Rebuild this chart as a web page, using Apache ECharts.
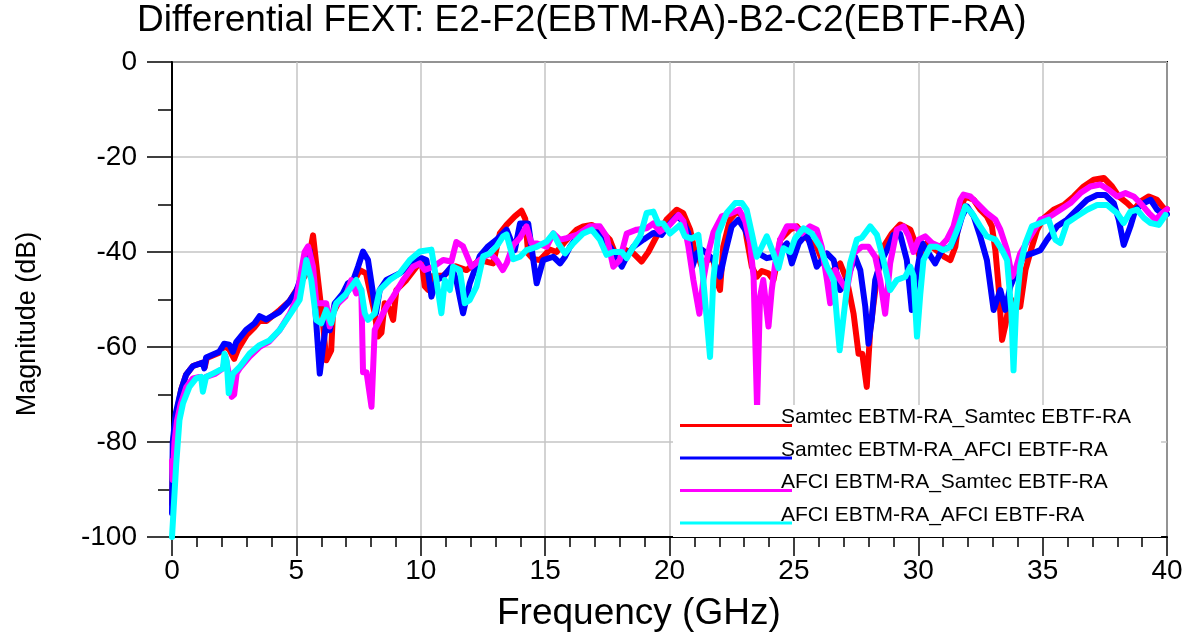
<!DOCTYPE html>
<html>
<head>
<meta charset="utf-8">
<script src="https://cdn.jsdelivr.net/npm/echarts@6/dist/echarts.min.js"></script>
<style>html,body{margin:0;padding:0;background:#fff}#c{width:1190px;height:635px}</style>
</head>
<body>
<div id="c"></div>
<script>
const titleText = 'Differential FEXT: E2-F2(EBTM-RA)-B2-C2(EBTF-RA)';
const xName = 'Frequency (GHz)';
const yName = 'Magnitude (dB)';
const seriesNames = ['Samtec EBTM-RA_Samtec EBTF-RA','Samtec EBTM-RA_AFCI EBTF-RA','AFCI EBTM-RA_Samtec EBTF-RA','AFCI EBTM-RA_AFCI EBTF-RA'];
const seriesColors = ['#ff0000','#0000ff','#ff00ff','#00ffff'];

const samtecSamtec = [[0,-93],[0.05,-80],[0.15,-75],[0.37,-69],[0.57,-65.8],[0.84,-64],[1.24,-63.3],[1.32,-64.2],[1.4,-62.3],[1.9,-61.2],[2.1,-59.8],[2.3,-60.5],[2.5,-62.5],[2.65,-60.5],[3.0,-57.5],[3.32,-55.8],[3.52,-54.5],[3.8,-54.5],[4.33,-52.2],[4.73,-50.3],[5.0,-48],[5.4,-44.5],[5.67,-36.5],[5.87,-45.9],[6.07,-55],[6.2,-62.8],[6.4,-60.7],[6.47,-52.9],[6.67,-50.8],[7.0,-48.7],[7.28,-46.6],[7.55,-43.8],[7.8,-44.5],[8.15,-52.9],[8.28,-57.8],[8.42,-57],[8.55,-50.8],[8.75,-52],[8.89,-54.3],[9.02,-48],[9.42,-45.9],[9.83,-43.1],[10.03,-41.7],[10.16,-47.2],[10.3,-48],[10.5,-45],[10.9,-45],[11.4,-43],[11.84,-43.8],[12.37,-41.7],[12.91,-42.4],[13.18,-36.1],[13.45,-34.3],[13.78,-32.5],[14.05,-31.3],[14.2,-33],[14.32,-40.3],[14.52,-41.5],[14.79,-41.7],[15.19,-39.5],[15.46,-40],[15.8,-37.8],[16.27,-35.3],[16.53,-34.6],[16.87,-34.3],[17.2,-35.3],[17.6,-37.4],[17.87,-41],[18.2,-39.5],[18.55,-40.3],[18.88,-42],[19.15,-40],[19.48,-36.7],[19.88,-33.2],[20.29,-31.1],[20.55,-31.8],[20.83,-35.3],[21.03,-40.3],[21.16,-41],[21.3,-43.1],[21.5,-41.7],[21.77,-41.5],[21.9,-46],[22.03,-48],[22.16,-38.9],[22.43,-33.2],[22.7,-31.5],[22.97,-32.5],[23.1,-37],[23.31,-43.1],[23.51,-45.2],[23.71,-44],[23.98,-44.5],[24.18,-45.9],[24.31,-42.4],[24.45,-37.4],[24.85,-35.3],[25.12,-34.6],[25.45,-36.7],[25.65,-37.8],[25.92,-38.9],[26.19,-42.4],[26.46,-44.5],[26.86,-42.4],[27.13,-45.9],[27.4,-53],[27.6,-61.4],[27.75,-61.4],[27.93,-68.4],[28.07,-56.4],[28.34,-45.2],[28.6,-38.9],[28.94,-36.1],[29.27,-34.2],[29.68,-35.3],[29.88,-38.1],[30.08,-41.5],[30.35,-38.1],[30.62,-39.2],[31.02,-40.9],[31.29,-41.7],[31.49,-38.9],[31.69,-31.1],[31.89,-28.3],[32.23,-29],[32.49,-31.1],[32.76,-32.5],[32.96,-34.6],[33.1,-39.6],[33.23,-47.3],[33.37,-58.5],[33.5,-55.5],[33.7,-49.7],[33.9,-51.5],[34.1,-51.5],[34.31,-43.8],[34.57,-38.9],[34.78,-35.3],[35.04,-32.9],[35.44,-31.1],[35.85,-30.1],[36.25,-28.3],[36.65,-26.2],[37.05,-24.8],[37.46,-24.4],[37.79,-26.2],[38.06,-28.3],[38.4,-29.7],[38.67,-31.1],[38.93,-29.4],[39.27,-28.3],[39.6,-29],[39.87,-30.8],[40,-31]];

const samtecAfci = [[0,-95],[0.03,-80],[0.15,-74],[0.37,-69],[0.57,-65.8],[0.84,-64],[1.24,-63.3],[1.3,-64.5],[1.37,-62.2],[1.9,-61],[2.1,-59.3],[2.3,-59.5],[2.45,-61],[2.58,-59],[2.98,-56.4],[3.32,-55],[3.52,-53.5],[3.79,-54.2],[4.33,-52.6],[4.73,-50.3],[5.0,-48.2],[5.33,-43.1],[5.53,-39.6],[5.67,-44.5],[5.8,-55],[5.94,-65.6],[6.07,-60],[6.2,-55],[6.34,-56.5],[6.54,-50.8],[6.87,-48.7],[7.07,-46.6],[7.28,-46],[7.48,-43.1],[7.68,-39.9],[7.88,-41.7],[8.0,-45.9],[8.2,-52.9],[8.35,-48],[8.62,-45.9],[9.15,-44.5],[9.69,-42.4],[10.03,-41.3],[10.23,-41.7],[10.43,-49.4],[10.63,-45.9],[10.9,-45.2],[11.23,-43.1],[11.43,-45.9],[11.7,-52.9],[11.97,-46.6],[12.37,-40.9],[12.71,-38.8],[13.05,-37.4],[13.45,-35.3],[13.78,-39.6],[13.99,-34],[14.32,-34],[14.45,-38.9],[14.66,-46.6],[14.92,-41.7],[15.33,-41],[15.6,-42.4],[15.8,-41],[16.0,-38.9],[16.4,-36.1],[16.8,-35.3],[17.2,-36.1],[17.6,-38.9],[17.87,-41],[18.08,-43.1],[18.28,-41],[18.55,-38.9],[18.95,-37.4],[19.35,-36],[19.68,-36.4],[20.02,-34],[20.29,-32.5],[20.55,-33.5],[20.76,-36.1],[20.92,-43.1],[21.09,-40.3],[21.3,-39.5],[21.5,-40.3],[21.77,-41.7],[22.03,-45.2],[22.23,-40.3],[22.5,-34.6],[22.77,-33.2],[23.04,-35.3],[23.31,-38.9],[23.58,-40.3],[23.91,-41.3],[24.18,-41],[24.45,-39.6],[24.72,-38.2],[24.92,-42.4],[25.19,-38.2],[25.52,-36.1],[25.92,-43.1],[26.33,-40.3],[26.6,-41.7],[26.86,-48],[27.13,-45.9],[27.46,-41],[27.67,-43.8],[27.87,-51.5],[28.0,-59.3],[28.13,-54.3],[28.27,-45.9],[28.47,-42.4],[28.74,-39.6],[29.0,-36.4],[29.27,-36.2],[29.54,-41.7],[29.74,-52.2],[29.95,-44],[30.15,-38.1],[30.42,-40.3],[30.68,-42.4],[30.95,-39.6],[31.29,-38.9],[31.56,-36.1],[31.76,-32.5],[31.96,-30.4],[32.23,-32.5],[32.49,-36.7],[32.76,-41.7],[33.03,-52.2],[33.3,-48],[33.5,-52.2],[33.7,-47.3],[33.97,-43.8],[34.24,-40.9],[34.57,-40.3],[34.91,-39.6],[35.18,-37.4],[35.58,-34.6],[35.98,-33.2],[36.38,-31.1],[36.79,-29],[37.19,-28],[37.52,-28],[37.86,-29.7],[38.06,-33.2],[38.26,-38.5],[38.53,-34.6],[38.73,-31.1],[39.07,-29.7],[39.34,-29],[39.6,-31.1],[39.87,-32.2],[40,-32]];

const afciSamtec = [[0,-84],[0.03,-88],[0.1,-80],[0.2,-75.5],[0.35,-72],[0.57,-68.5],[0.84,-66.6],[1.1,-66.3],[1.24,-67],[1.37,-66.3],[1.75,-65.6],[2.05,-64.5],[2.15,-62],[2.3,-66],[2.4,-70.5],[2.5,-70],[2.6,-65.5],[2.72,-64.5],[3.12,-62],[3.52,-60],[3.92,-58.8],[4.33,-56.4],[4.73,-53],[5.0,-50],[5.33,-40],[5.47,-38.8],[5.67,-43.1],[5.8,-50.8],[6.0,-50.8],[6.2,-50.8],[6.34,-55.7],[6.54,-51.5],[6.97,-49.4],[7.21,-45.9],[7.41,-48.7],[7.61,-48],[7.68,-65.3],[7.82,-65.3],[8.02,-72.6],[8.15,-56.4],[8.35,-54.3],[8.62,-51.5],[8.89,-49.4],[9.29,-45.9],[9.69,-43.1],[9.96,-42.4],[10.16,-43.8],[10.5,-43.1],[10.9,-41.7],[11.23,-42],[11.43,-37.9],[11.7,-38.8],[12.04,-43.1],[12.37,-41.7],[12.78,-40.3],[13.05,-41.7],[13.3,-43.8],[13.45,-42.4],[13.72,-38.5],[13.99,-37],[14.25,-34.6],[14.45,-38.2],[14.66,-38.2],[15.06,-38.9],[15.33,-36.1],[15.6,-37.4],[15.86,-37.1],[16.27,-36.4],[16.8,-34.6],[17.2,-34.6],[17.47,-36.7],[17.74,-43.1],[18.0,-41.7],[18.28,-36.1],[18.68,-35.3],[19.08,-35],[19.35,-34],[19.62,-35.7],[20.0,-34.3],[20.36,-32.2],[20.56,-33.5],[20.76,-38.9],[20.96,-45.9],[21.2,-53],[21.36,-45.9],[21.55,-40.3],[21.77,-35.8],[22.1,-32.5],[22.5,-31.8],[22.8,-31.1],[23.04,-33.5],[23.24,-38],[23.38,-45.2],[23.52,-72.8],[23.64,-49.4],[23.77,-45.9],[23.98,-55.7],[24.11,-48],[24.25,-42.4],[24.45,-37.4],[24.72,-34.6],[25.05,-34.6],[25.32,-36.1],[25.65,-34.6],[25.92,-35.3],[26.12,-38.9],[26.33,-45.9],[26.46,-50.8],[26.66,-43.8],[26.86,-45.9],[27.13,-48],[27.4,-40.3],[27.73,-38.9],[28.0,-38.9],[28.27,-41],[28.47,-45.9],[28.67,-53],[28.87,-42.4],[29.14,-35.3],[29.41,-34.6],[29.6,-36.5],[29.81,-40],[30.01,-37.4],[30.28,-36.7],[30.55,-38.1],[30.88,-38.9],[31.15,-37.4],[31.42,-34.6],[31.69,-29],[31.82,-27.9],[32.09,-28.3],[32.36,-29.7],[32.76,-31.8],[33.1,-33.2],[33.3,-35.3],[33.57,-39.6],[33.77,-45.2],[33.9,-43.8],[34.1,-40.3],[34.51,-36.7],[34.91,-33.2],[35.31,-32.5],[35.71,-31.1],[36.12,-29.7],[36.52,-27.6],[36.92,-26.2],[37.32,-25.8],[37.66,-26.9],[37.99,-28.3],[38.33,-27.6],[38.66,-28.3],[38.93,-29.7],[39.27,-31.8],[39.54,-33.2],[39.81,-31.8],[40,-31]];

const afciAfci = [[0,-100],[0.17,-84.6],[0.3,-75.4],[0.44,-71.9],[0.7,-68.4],[0.97,-66.6],[1.17,-66.3],[1.24,-69.4],[1.37,-66.3],[1.64,-65.6],[2.05,-64.5],[2.11,-61.4],[2.2,-63],[2.28,-69.7],[2.45,-65.6],[2.72,-64.2],[3.12,-61.4],[3.52,-59.6],[3.92,-58.6],[4.33,-56.4],[4.73,-53.3],[5.13,-50.1],[5.4,-41.7],[5.6,-45.9],[5.8,-54.3],[6.0,-55],[6.2,-52.2],[6.4,-55],[6.6,-50.8],[6.97,-49],[7.21,-47.3],[7.41,-45.9],[7.61,-48],[7.75,-52.9],[7.88,-54.3],[8.15,-52.9],[8.35,-48],[8.75,-45.9],[9.15,-44.5],[9.56,-41.7],[9.96,-39.9],[10.43,-39.5],[10.63,-45.9],[10.83,-52.9],[10.97,-45.9],[11.17,-48],[11.3,-43.1],[11.57,-43.8],[11.77,-50.8],[11.97,-50.1],[12.24,-47.3],[12.51,-40.9],[12.78,-40.3],[13.05,-38.8],[13.31,-36.7],[13.45,-36.3],[13.72,-41.5],[13.99,-41],[14.25,-39.6],[14.66,-38.9],[15.06,-37.8],[15.33,-36.1],[15.53,-38.2],[15.8,-40.3],[16.13,-38.2],[16.53,-36.1],[16.87,-35.3],[17.2,-37.4],[17.47,-40.6],[17.74,-40],[18.08,-40],[18.28,-41.3],[18.55,-38.9],[18.82,-36.7],[19.08,-31.8],[19.35,-31.5],[19.55,-34],[19.75,-34],[20.02,-36.1],[20.42,-34.3],[20.62,-36.7],[20.89,-37.2],[21.16,-36.4],[21.36,-45.9],[21.63,-62.1],[21.76,-45.9],[21.96,-36.1],[22.3,-31.8],[22.64,-29.7],[22.91,-29.7],[23.1,-31.1],[23.31,-36.1],[23.51,-41],[23.71,-38.9],[23.91,-36.7],[24.18,-40.3],[24.38,-43.4],[24.58,-39.2],[24.85,-40],[25.05,-37.1],[25.39,-35],[25.72,-36.1],[26.06,-38.9],[26.33,-43.1],[26.6,-45.9],[26.84,-60.7],[27.06,-50.8],[27.26,-42.4],[27.53,-37.4],[27.73,-37],[28.07,-34.6],[28.34,-36.4],[28.6,-41.7],[28.87,-48],[29.14,-45.9],[29.48,-45.2],[29.68,-43.1],[29.81,-45],[29.95,-57.8],[30.08,-49],[30.21,-41.7],[30.48,-38.9],[30.75,-38.9],[31.0,-39.6],[31.29,-38.9],[31.62,-34.6],[31.89,-30.4],[32.16,-31.8],[32.49,-34.6],[32.76,-36.7],[33.1,-37.4],[33.37,-39.6],[33.57,-41.7],[33.74,-52.2],[33.83,-64.9],[33.93,-52.2],[34.1,-43],[34.31,-38.1],[34.57,-34.6],[34.91,-33.9],[35.24,-33.2],[35.51,-37.4],[35.71,-38.1],[35.98,-33.9],[36.38,-32.5],[36.79,-31.1],[37.19,-30.1],[37.59,-30.1],[37.99,-31.8],[38.26,-33.9],[38.53,-31.5],[38.8,-31.1],[39.07,-32.8],[39.34,-33.9],[39.67,-34.3],[39.94,-32.2]];

const allData = [samtecSamtec, samtecAfci, afciSamtec, afciAfci];
const FONT = '"Liberation Sans", Arial, sans-serif';

const chart = echarts.init(document.getElementById('c'), null, {renderer: 'canvas'});
chart.setOption({
  animation: false,
  backgroundColor: '#fff',
  title: {
    text: titleText, left: 137, top: 2, padding: 0,
    textStyle: {fontFamily: FONT, fontSize: 37, fontWeight: 'normal', color: '#000'}
  },
  grid: {left: 172, right: 23, top: 62, bottom: 98, show: true, borderColor: '#000', borderWidth: 2, backgroundColor: 'transparent'},
  legend: {
    orient: 'vertical', left: 673, top: 405, padding: [2, 30, 3, 7],
    backgroundColor: '#fff', itemWidth: 112, itemHeight: 3, itemGap: 3, icon: 'rect',
    data: seriesNames,
    formatter: name => '{t|' + name + '}\n{s| }',
    textStyle: {
      fontFamily: FONT, fontSize: 21, color: '#000', padding: [0, 0, 0, -16],
      rich: {
        t: {fontFamily: FONT, fontSize: 21, color: '#000', lineHeight: 12},
        s: {fontSize: 10, lineHeight: 16}
      }
    }
  },
  xAxis: {
    type: 'value', min: 0, max: 40, interval: 5,
    axisLine: {show: true, onZero: false, lineStyle: {color: '#000', width: 2}},
    axisTick: {show: true, length: 19, lineStyle: {color: '#000', width: 1.5}},
    minorTick: {show: true, splitNumber: 5, length: 10, lineStyle: {color: '#000', width: 1.5}},
    splitLine: {show: true, lineStyle: {color: '#c4c4c4', width: 1.5}},
    axisLabel: {fontFamily: FONT, fontSize: 28, color: '#000', margin: 20}
  },
  yAxis: {
    type: 'value', min: -100, max: 0, interval: 20,
    axisLine: {show: true, onZero: false, lineStyle: {color: '#000', width: 2}},
    axisTick: {show: true, length: 25, lineStyle: {color: '#000', width: 1.5}},
    minorTick: {show: true, splitNumber: 2, length: 14, lineStyle: {color: '#000', width: 1.5}},
    splitLine: {show: true, lineStyle: {color: '#c4c4c4', width: 1.5}},
    axisLabel: {fontFamily: FONT, fontSize: 28, color: '#000', margin: 35}
  },
  graphic: [
    {type: 'text', left: 497, top: 595, style: {text: xName, font: '37px ' + FONT, fill: '#000'}},
    {type: 'text', x: 28, y: 324, rotation: Math.PI / 2, style: {text: yName, font: '27px ' + FONT, fill: '#000', align: 'center', verticalAlign: 'middle'}}
  ],
  series: allData.map((d, i) => ({
    name: seriesNames[i], type: 'line', data: d, showSymbol: false, symbol: 'none',
    color: seriesColors[i],
    lineStyle: {color: seriesColors[i], width: 6, cap: 'round', join: 'round'},
    emphasis: {disabled: true}
  }))
});
</script>
</body>
</html>
